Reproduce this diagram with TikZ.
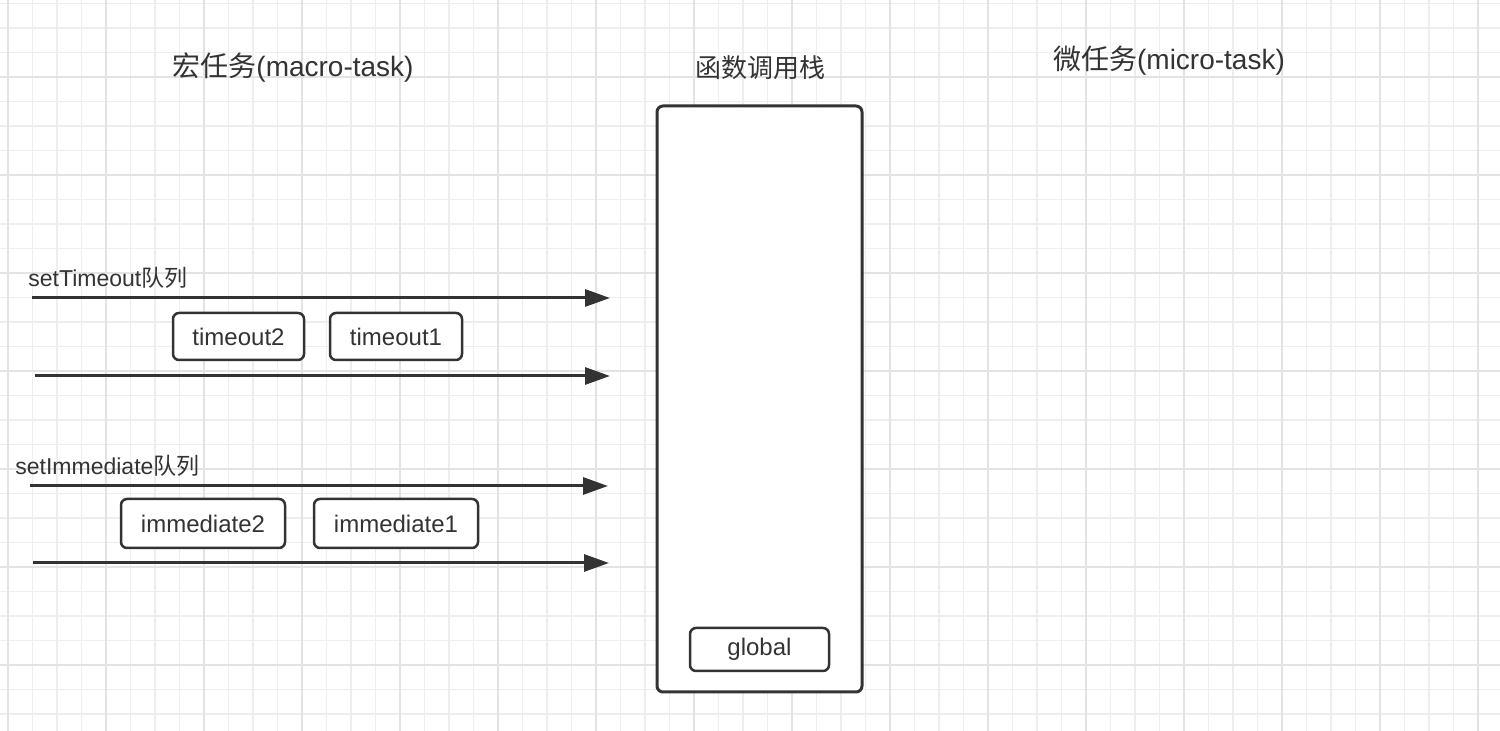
\documentclass[tikz,border=0pt]{standalone}
\usepackage{fontspec}
\setmainfont{Liberation Sans}
\newfontfamily\cjk{Noto Sans CJK SC}
\usetikzlibrary{arrows.meta}
\definecolor{ink}{HTML}{333333}
\definecolor{gminor}{HTML}{EEEEEE}
\definecolor{gmajor}{HTML}{E3E3E3}
\tikzset{
  gridminor/.style={draw=gminor, line width=0.75pt},
  gridmajor/.style={draw=gmajor, line width=1pt},
  taskbox/.style={draw=ink, line width=1.25pt, rounded corners=3pt, fill=white, text=ink,
    font=\fontsize{12}{14}\selectfont, inner sep=0pt},
  stackbox/.style={draw=ink, line width=1.5pt, rounded corners=3pt, fill=white, inner sep=0pt},
  title/.style={text=ink, font=\fontsize{14}{16}\selectfont, inner sep=0pt},
  qlabel/.style={text=ink, font=\fontsize{11.5}{13}\selectfont, inner sep=0pt, anchor=west},
  queue/.style={draw=ink, line width=1.5pt, -{Triangle[length=12.5pt, width=8.5pt]}}
}
\begin{document}
\begin{tikzpicture}[x=0.5pt,y=-0.5pt]
\fill[white] (0,0) rectangle (1500,731);
\useasboundingbox (0,0) rectangle (1500,731);
\begin{scope}
\clip (0,0) rectangle (1500,731);
\foreach \i in {0,...,61} \draw[gridminor] ({8+24.5*\i},0) -- ({8+24.5*\i},731);
\foreach \j in {0,...,29} \draw[gridminor] (0,{3.5+24.5*\j}) -- (1500,{3.5+24.5*\j});
\foreach \i in {0,...,15} \draw[gridmajor] ({8+98*\i},0) -- ({8+98*\i},731);
\foreach \j in {0,...,6} \draw[gridmajor] (0,{77+98*\j}) -- (1500,{77+98*\j});
\end{scope}

% titles
\node[title] (tmacro) at (293,68) {{\cjk 宏任务}(macro-task)};
\node[title, font=\fontsize{13}{15}\selectfont] (tstack) at (760,68) {\cjk 函数调用栈};
\node[title] (tmicro) at (1169,61) {{\cjk 微任务}(micro-task)};

% call stack
\node[stackbox, minimum width=102.5pt, minimum height=293pt] (stack) at (759.5,399) {};
\node[taskbox, minimum width=69.5pt, minimum height=21.5pt] (global) at (759.5,649.5) {global};

% setTimeout queue
\node[qlabel] (lto) at (28,278) {setTimeout{\cjk 队列}};
\coordinate (a1s) at (32,298); \coordinate (a1e) at (610,298);
\coordinate (a2s) at (35,376); \coordinate (a2e) at (610,376);
\draw[queue] (a1s) -- (a1e);
\draw[queue] (a2s) -- (a2e);
\node[taskbox, minimum width=65.5pt, minimum height=23.5pt] (to2) at (238.5,336.5) {timeout2};
\node[taskbox, minimum width=66pt, minimum height=23.5pt] (to1) at (396,336.5) {timeout1};

% setImmediate queue
\node[qlabel] (lim) at (15,466) {setImmediate{\cjk 队列}};
\coordinate (a3s) at (30,486); \coordinate (a3e) at (608,486);
\coordinate (a4s) at (33,563); \coordinate (a4e) at (609,563);
\draw[queue] (a3s) -- (a3e);
\draw[queue] (a4s) -- (a4e);
\node[taskbox, minimum width=82pt, minimum height=24.5pt] (im2) at (203,523.5) {immediate2};
\node[taskbox, minimum width=82pt, minimum height=24.5pt] (im1) at (396,523.5) {immediate1};
\end{tikzpicture}
\end{document}
